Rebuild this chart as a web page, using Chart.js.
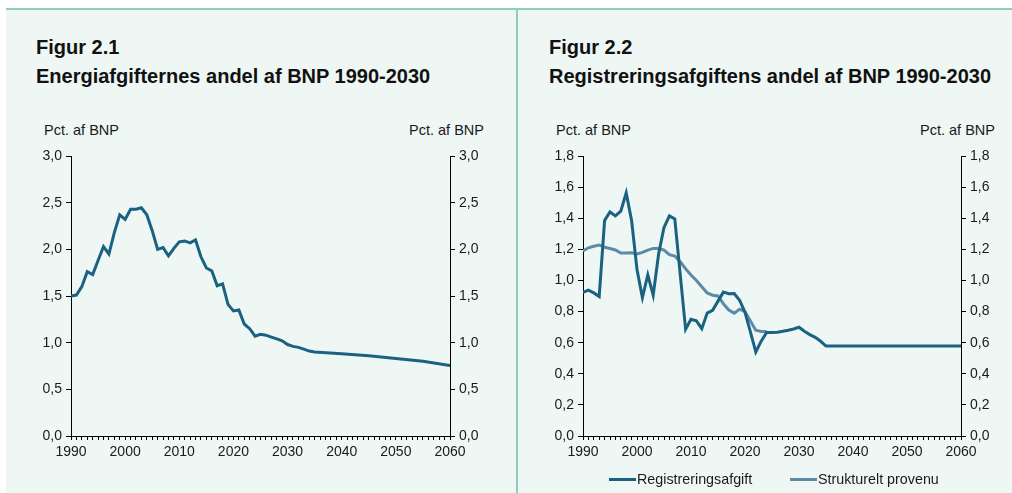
<!DOCTYPE html>
<html>
<head>
<meta charset="utf-8">
<script src="https://cdn.jsdelivr.net/npm/chart.js@4/dist/chart.umd.min.js"></script>
<style>
  html, body { margin:0; padding:0; background:#ffffff; }
  body { width:1012px; height:493px; position:relative; overflow:hidden;
         font-family:'Liberation Sans', Arial, sans-serif; color:#1a1a1a; }
  .bg { position:absolute; left:6px; top:8px; width:1006px; height:485px;
        background:#eff7f5; border-top:2px solid #8ecfbc; box-sizing:border-box; }
  .divider { position:absolute; left:516px; top:8px; width:2px; height:485px; background:#8ecfbc; }
  .title { position:absolute; top:33px; font-weight:bold; font-size:20px; line-height:29px; color:#111; white-space:nowrap; }
  .unit { position:absolute; top:122px; font-size:14.5px; line-height:17px; color:#1a1a1a; white-space:nowrap; }
  canvas { position:absolute; }
  .leg { position:absolute; top:471px; font-size:14.3px; line-height:17px; color:#1a1a1a; white-space:nowrap; }
  .leg span.sw { display:inline-block; width:27px; height:3px; vertical-align:middle; margin-right:1px; position:relative; top:-1px; }
</style>
</head>
<body>
<div class="bg"></div>
<div class="divider"></div>

<div class="title" style="left:36px;">Figur 2.1<br>Energiafgifternes andel af BNP 1990-2030</div>
<div class="title" style="left:549px;">Figur 2.2<br>Registreringsafgiftens andel af BNP 1990-2030</div>

<div class="unit" style="left:44px;">Pct. af BNP</div>
<div class="unit" style="right:528px;">Pct. af BNP</div>
<div class="unit" style="left:556px;">Pct. af BNP</div>
<div class="unit" style="right:17px;">Pct. af BNP</div>

<canvas id="c1" width="517" height="353" style="left:0px; top:140px; width:517px; height:353px;"></canvas>
<canvas id="c2" width="495" height="353" style="left:517px; top:140px; width:495px; height:353px;"></canvas>

<div class="leg" style="left:609px;"><span class="sw" style="background:#1b6282;"></span>Registreringsafgift</div>
<div class="leg" style="left:790px;"><span class="sw" style="background:#5c8ba8;"></span>Strukturelt provenu</div>

<script>
// ---------- Data ----------
const energyYears = [1990,1991,1992,1993,1994,1995,1996,1997,1998,1999,2000,2001,2002,2003,2004,2005,2006,2007,2008,2009,
  2010,2011,2012,2013,2014,2015,2016,2017,2018,2019,2020,2021,2022,2023,2024,2025,2026,2027,2028,2029,2030,
  2031,2032,2033,2034,2035,2040,2045,2050,2055,2060];
const energyValues = [1.50,1.51,1.60,1.76,1.73,1.88,2.03,1.95,2.18,2.37,2.32,2.43,2.43,2.445,2.37,2.20,2.00,2.02,1.93,2.01,
  2.08,2.09,2.07,2.10,1.92,1.80,1.77,1.61,1.63,1.41,1.34,1.35,1.20,1.15,1.07,1.09,1.08,1.06,1.04,1.02,0.98,
  0.96,0.95,0.93,0.91,0.90,0.88,0.86,0.83,0.80,0.755];

const regYears = [1990,1991,1992,1993,1994,1995,1996,1997,1998,1999,2000,2001,2002,2003,2004,2005,2006,2007,2008,2009,
  2010,2011,2012,2013,2014,2015,2016,2017,2018,2019,2020,2021,2022,2023,2024,2025,2026,2027,2028,2029,2030,
  2031,2032,2033,2034,2035,2040,2050,2060];
const regValues = [0.923,0.938,0.92,0.897,1.385,1.44,1.415,1.445,1.563,1.385,1.07,0.89,1.036,0.905,1.17,1.34,1.415,1.395,1.04,0.686,
  0.75,0.74,0.69,0.79,0.808,0.867,0.925,0.915,0.916,0.873,0.795,0.67,0.54,0.61,0.665,0.665,0.667,0.673,0.68,0.688,0.699,
  0.673,0.652,0.634,0.609,0.578,0.578,0.578,0.578];

const strYears = [1990,1991,1992,1993,1994,1995,1996,1997,1998,1999,2000,2001,2002,2003,2004,2005,2006,2007,2008,2009,
  2010,2011,2012,2013,2014,2015,2016,2017,2018,2019,2020,2021,2022,2023,2024];
const strValues = [1.19,1.21,1.22,1.228,1.213,1.205,1.196,1.176,1.176,1.178,1.17,1.18,1.195,1.206,1.206,1.195,1.166,1.157,1.12,1.075,
  1.035,1.0,0.96,0.92,0.905,0.90,0.85,0.81,0.79,0.815,0.80,0.74,0.68,0.672,0.672];

const xTickLabels = [1990,2000,2010,2020,2030,2040,2050,2060];
const energyColor = '#1b6282';
const regColor = '#1b6282';
const strColor = '#5c8ba8';

// ---------- Helpers ----------
Chart.defaults.font.family = "'Liberation Sans', Arial, sans-serif";
Chart.defaults.font.size = 14;
Chart.defaults.color = '#1a1a1a';

const pts = (xs, ys) => xs.map((x, i) => ({x: x, y: ys[i]}));
const fmt = v => Number(v).toFixed(1).replace('.', ',');

function yAxis(position, max, step, width) {
  return {
    type: 'linear', position: position, min: 0, max: max,
    border: { display: true, color: '#000', width: 1 },
    grid: { display: true, drawOnChartArea: false, drawTicks: true, tickLength: 5, color: '#000', tickColor: '#000' },
    ticks: { stepSize: step, padding: 4, callback: v => fmt(v), color: '#1a1a1a' },
    afterFit: s => { s.width = width; }
  };
}
function xAxis(height) {
  return {
    type: 'linear', position: 'bottom', min: 1990, max: 2060,
    border: { display: true, color: '#000', width: 1 },
    grid: { display: true, drawOnChartArea: false, drawTicks: true, tickLength: 4, color: '#000', tickColor: '#000' },
    ticks: { stepSize: 1, autoSkip: false, maxRotation: 0, padding: 4,
             callback: v => (xTickLabels.includes(v) ? String(v) : '') },
    afterFit: s => { s.height = height; }
  };
}
const lineDs = (label, data, color) => ({
  label: label, data: data, borderColor: color, backgroundColor: color,
  borderWidth: 3, pointRadius: 0, tension: 0, fill: false, yAxisID: 'y'
});
const baseOpts = (yMax, yStep, leftW, rightW) => ({
  responsive: false, animation: false, maintainAspectRatio: false,
  layout: { padding: { top: 16, left: 0, right: 0, bottom: 0 } },
  plugins: { legend: { display: false }, tooltip: { enabled: false } },
  scales: {
    x: xAxis(57),
    y: yAxis('left', yMax, yStep, leftW),
    y2: yAxis('right', yMax, yStep, rightW)
  }
});

new Chart(document.getElementById('c1'), {
  type: 'line',
  data: { datasets: [ lineDs('Energiafgifter', pts(energyYears, energyValues), energyColor) ] },
  options: baseOpts(3, 0.5, 71, 67)
});

new Chart(document.getElementById('c2'), {
  type: 'line',
  data: { datasets: [
    lineDs('Registreringsafgift', pts(regYears, regValues), regColor),
    lineDs('Strukturelt provenu', pts(strYears, strValues), strColor)
  ] },
  options: baseOpts(1.8, 0.2, 66, 51)
});
</script>
</body>
</html>
